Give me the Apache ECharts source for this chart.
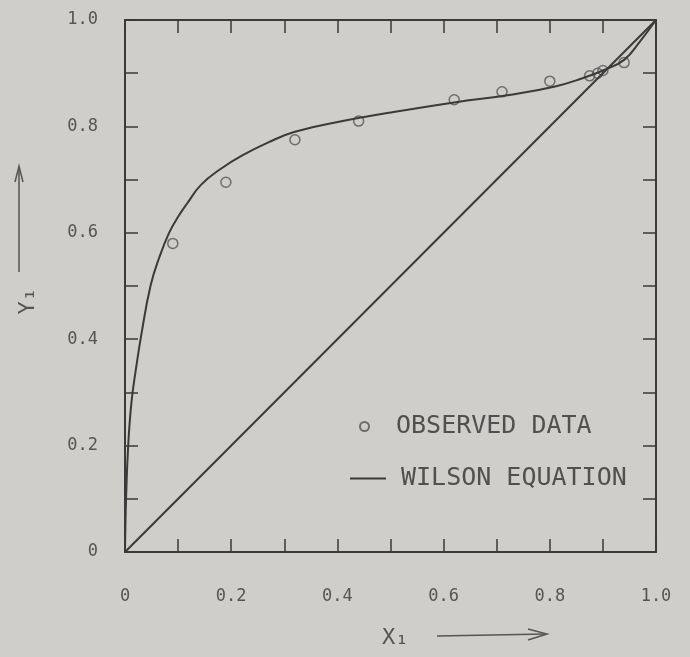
<!DOCTYPE html>
<html>
<head>
<meta charset="utf-8">
<script src="https://cdn.jsdelivr.net/npm/echarts@6/dist/echarts.min.js"></script>
<style>
html,body{margin:0;padding:0;background:#cfceca;}
#main{width:690px;height:657px;}
</style>
</head>
<body>
<div id="main"></div>
<script>
// tick labels
var xTickLabels = ['0', '0.2', '0.4', '0.6', '0.8', '1.0'];
var yTickLabels = ['0', '0.2', '0.4', '0.6', '0.8', '1.0'];

// observed data points (x1, y1)
var obsX = [0.09, 0.19, 0.32, 0.44, 0.62, 0.71, 0.80, 0.875, 0.89, 0.90, 0.94];
var obsY = [0.58, 0.695, 0.775, 0.81, 0.85, 0.865, 0.885, 0.895, 0.90, 0.905, 0.92];

// wilson equation curve
var wilsonX = [0, 0.002, 0.006, 0.012, 0.02, 0.031, 0.048, 0.065, 0.083, 0.1, 0.117, 0.143, 0.18, 0.22, 0.27, 0.32, 0.41, 0.5, 0.62, 0.73, 0.81, 0.86, 0.9, 0.94, 0.97, 1.0];
var wilsonY = [0, 0.1, 0.2, 0.28, 0.34, 0.41, 0.5, 0.555, 0.6, 0.63, 0.655, 0.69, 0.72, 0.745, 0.77, 0.79, 0.81, 0.826, 0.845, 0.86, 0.875, 0.89, 0.905, 0.925, 0.96, 1.0];

// diagonal y = x
var diagX = [0, 1];
var diagY = [0, 1];

function pairs(xs, ys) {
	var arr = [];
	for (var i = 0; i < xs.length; i++) {
		arr.push([xs[i], ys[i]]);
	}
	return arr;
}

function tickFmt(labels) {
	return function (v) {
		var idx = Math.round(v * 10);
		if (idx % 2 != 0) return '';
		return labels[idx / 2];
	};
}

var ink = '#3a3a3a';
var txt = '#555';
var mono = '"DejaVu Sans Mono", "Liberation Mono", monospace';

var myChart = echarts.init(document.getElementById('main'));

var axisCommon = {
	type: 'value', min: 0, max: 1, interval: 0.1,
	splitLine: {show: false},
	axisLine: {show: true, onZero: false, lineStyle: {color: ink, width: 2}},
	axisTick: {show: true, inside: true, length: 13, lineStyle: {color: ink, width: 1.5}}
};

var option = {
	backgroundColor: '#cfceca',
	animation: false,
	grid: {left: 125, right: 34, top: 20, bottom: 105},
	xAxis: [
		echarts.util.merge({
			position: 'bottom',
			axisLabel: {formatter: tickFmt(xTickLabels), margin: 36, color: txt, fontFamily: mono, fontSize: 17}
		}, axisCommon),
		echarts.util.merge({position: 'top', axisLabel: {show: false}}, axisCommon)
	],
	yAxis: [
		echarts.util.merge({
			position: 'left',
			axisLabel: {formatter: tickFmt(yTickLabels), margin: 27, color: txt, fontFamily: mono, fontSize: 17}
		}, axisCommon),
		echarts.util.merge({position: 'right', axisLabel: {show: false}}, axisCommon)
	],
	legend: [{
		data: ['OBSERVED DATA'],
		left: 354, top: 409,
		itemWidth: 9, itemHeight: 9,
		textStyle: {color: '#505050', fontFamily: mono, fontSize: 25, padding: [0, 0, 0, 22]}
	}, {
		data: [{name: 'WILSON EQUATION', icon: 'rect'}],
		left: 345, top: 461,
		itemWidth: 36, itemHeight: 2,
		textStyle: {color: '#505050', fontFamily: mono, fontSize: 25, padding: [0, 0, 0, 10]}
	}],
	graphic: [
		{type: 'text', left: 17, top: 288, rotation: Math.PI / 2,
			style: {text: 'Y\u2081', fill: '#555', font: '22px ' + mono}},
		{type: 'line', shape: {x1: 19, y1: 272, x2: 19, y2: 168}, style: {stroke: '#555', lineWidth: 1.5}},
		{type: 'polyline', shape: {points: [[15, 182], [19, 166], [23, 182]]}, style: {stroke: '#555', lineWidth: 1.5, fill: null}},
		{type: 'text', left: 382, top: 627,
			style: {text: 'X\u2081', fill: '#555', font: '22px ' + mono}},
		{type: 'line', shape: {x1: 437, y1: 636, x2: 546, y2: 634}, style: {stroke: '#555', lineWidth: 1.5}},
		{type: 'polyline', shape: {points: [[528, 629], [547, 634], [528, 640]]}, style: {stroke: '#555', lineWidth: 1.5, fill: null}}
	],
	series: [{
		name: 'WILSON EQUATION',
		type: 'line',
		data: pairs(wilsonX, wilsonY),
		symbol: 'none',
		smooth: 0.45,
		lineStyle: {color: ink, width: 2},
		itemStyle: {color: ink}
	}, {
		name: 'diagonal',
		type: 'line',
		data: pairs(diagX, diagY),
		symbol: 'none',
		lineStyle: {color: ink, width: 2}
	}, {
		name: 'OBSERVED DATA',
		type: 'scatter',
		data: pairs(obsX, obsY),
		symbol: 'circle',
		symbolSize: 10,
		itemStyle: {color: 'rgba(0,0,0,0)', borderColor: '#555', borderWidth: 1.5}
	}]
};

myChart.setOption(option);
</script>
</body>
</html>
